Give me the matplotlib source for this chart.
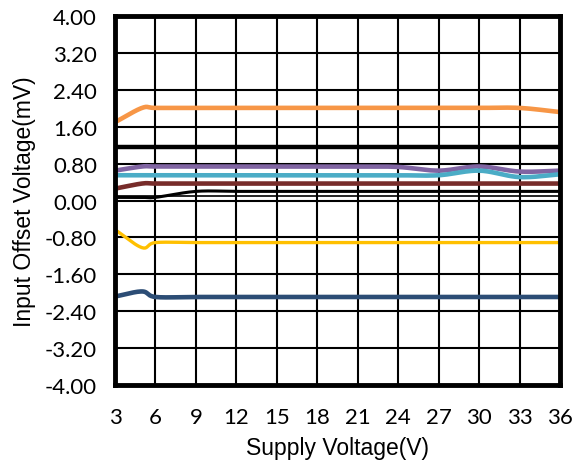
import numpy as np
import matplotlib
matplotlib.use('Agg')
import matplotlib.pyplot as plt

# supply voltage points (V)
supply_v = [3, 5, 6, 9, 12, 15, 18, 21, 24, 27, 30, 33, 36]

# input offset voltage (mV) for each unit
orange = [1.70, 2.01, 2.01, 2.01, 2.01, 2.01, 2.01, 2.01, 2.01, 2.01, 2.01, 2.01, 1.92]
purple = [0.65, 0.74, 0.74, 0.74, 0.74, 0.74, 0.74, 0.74, 0.73, 0.65, 0.74, 0.63, 0.65]
cyan = [0.55, 0.55, 0.55, 0.55, 0.55, 0.55, 0.55, 0.55, 0.55, 0.55, 0.65, 0.51, 0.57]
brown = [0.26, 0.37, 0.37, 0.37, 0.37, 0.37, 0.37, 0.37, 0.37, 0.37, 0.37, 0.37, 0.37]
black = [0.07, 0.07, 0.07, 0.20, 0.20, 0.20, 0.20, 0.20, 0.20, 0.20, 0.20, 0.20, 0.20]
yellow = [-0.63, -1.02, -0.91, -0.91, -0.91, -0.91, -0.91, -0.91, -0.91, -0.91, -0.91, -0.91, -0.91]
navy = [-2.08, -1.97, -2.09, -2.09, -2.09, -2.09, -2.09, -2.09, -2.09, -2.09, -2.09, -2.09, -2.09]

# two extra flat traces
flat_thick = 1.16
flat_thin = 0.11

x_ticks = [3, 6, 9, 12, 15, 18, 21, 24, 27, 30, 33, 36]
y_ticks = [-4.0, -3.2, -2.4, -1.6, -0.8, 0.0, 0.8, 1.6, 2.4, 3.2, 4.0]


def smooth(x, y, n=20):
    ''' Catmull-Rom curve through the points, like Excel smoothed lines '''
    x = np.asarray(x, float)
    y = np.asarray(y, float)
    px = np.concatenate([[2 * x[0] - x[1]], x, [2 * x[-1] - x[-2]]])
    py = np.concatenate([[2 * y[0] - y[1]], y, [2 * y[-1] - y[-2]]])
    xs, ys = [], []
    t = np.linspace(0, 1, n, endpoint=False)
    for i in range(1, len(px) - 2):
        for p, out in ((px, xs), (py, ys)):
            p0, p1, p2, p3 = p[i - 1], p[i], p[i + 1], p[i + 2]
            out.extend(0.5 * (2 * p1 + (-p0 + p2) * t
                              + (2 * p0 - 5 * p1 + 4 * p2 - p3) * t ** 2
                              + (-p0 + 3 * p1 - 3 * p2 + p3) * t ** 3))
    xs.append(x[-1])
    ys.append(y[-1])
    return xs, ys


fig = plt.figure(figsize=(5.75, 4.64), dpi=100)
ax = fig.add_axes([0.2, 0.168, 0.774, 0.795])

for v in x_ticks:
    ax.axvline(v, color='black', lw=1.5, zorder=1)
for v in y_ticks:
    ax.axhline(v, color='black', lw=1.5, zorder=1)

ax.axhline(flat_thick, color='black', lw=3.2, zorder=2)
ax.axhline(flat_thin, color='black', lw=1.2, zorder=2)

series = [
    (orange, '#F79646', 3.3),
    (purple, '#8064A2', 3.3),
    (cyan, '#4BACC6', 3.3),
    (brown, '#772C2A', 3.3),
    (black, '#000000', 2.2),
    (yellow, '#FFC000', 2.4),
    (navy, '#2C4D75', 3.3),
]
for ys, c, w in series:
    sx, sy = smooth(supply_v, ys)
    ax.plot(sx, sy, color=c, lw=w, solid_capstyle='butt', zorder=3)

ax.set_xlim(3, 36)
ax.set_ylim(-4, 4)
ax.set_xticks(x_ticks)
ax.set_yticks(y_ticks)
ax.set_yticklabels(['%.2f' % v for v in y_ticks])
ax.tick_params(length=0, labelsize=16)
for lab in ax.get_xticklabels() + ax.get_yticklabels():
    lab.set_family('Lato')
ax.tick_params(axis='x', pad=16)
ax.tick_params(axis='y', pad=13)
for s in ax.spines.values():
    s.set_linewidth(3.5)
    s.set_zorder(5)

ax.set_xlabel('Supply Voltage(V)', family='Liberation Sans', fontsize=16.5, labelpad=6)
ax.set_ylabel('Input Offset Voltage(mV)', family='Liberation Sans', fontsize=16.5, labelpad=6)

fig.savefig('out.png', dpi=100)
